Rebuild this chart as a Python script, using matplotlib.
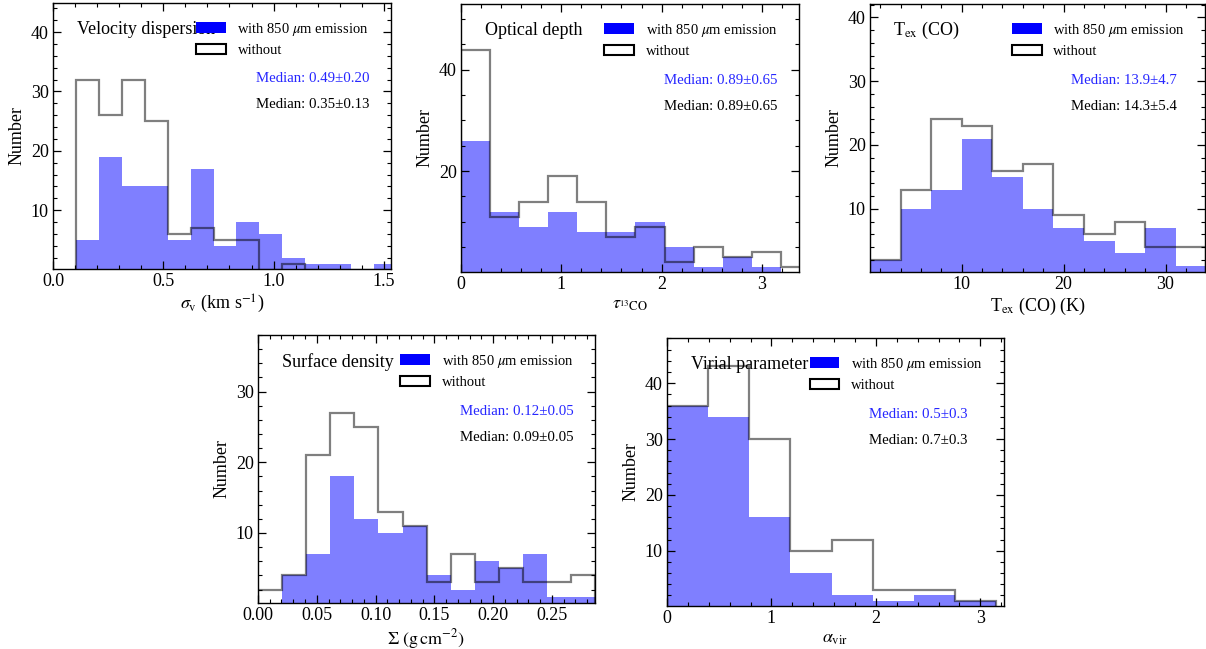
import matplotlib
matplotlib.use('Agg')
import matplotlib.pyplot as plt
from matplotlib.patches import Patch
from matplotlib.ticker import AutoMinorLocator, MultipleLocator

plt.rcParams['font.family'] = 'serif'
plt.rcParams['font.serif'] = ['Liberation Serif', 'DejaVu Serif']
plt.rcParams['mathtext.fontset'] = 'stix'

# ---- data (counts per bin) ----
sig_edges = [0.106, 0.210, 0.313, 0.417, 0.520, 0.624, 0.728, 0.831, 0.935,
             1.038, 1.142, 1.246, 1.349, 1.453, 1.556]
sig_with = [5, 19, 14, 14, 5, 17, 4, 8, 6, 2, 1, 1, 0, 1]
sig_without = [32, 26, 32, 25, 6, 7, 5, 5, 0, 1, 0, 0, 0, 0]

tau_edges = [0.0, 0.29, 0.58, 0.87, 1.16, 1.45, 1.74, 2.03, 2.32, 2.61, 2.90, 3.19, 3.48]
tau_with = [26, 12, 9, 12, 8, 8, 10, 5, 1, 3, 1, 0]
tau_without = [44, 11, 14, 19, 14, 7, 9, 2, 5, 3, 4, 1]

tex_edges = [1, 4, 7, 10, 13, 16, 19, 22, 25, 28, 31, 34]
tex_with = [2, 10, 13, 21, 15, 10, 7, 5, 3, 7, 1]
tex_without = [2, 13, 24, 23, 16, 17, 9, 6, 8, 4, 4]

sd_edges = [0.0, 0.0205, 0.041, 0.0615, 0.082, 0.1025, 0.123, 0.1435, 0.164,
            0.1845, 0.205, 0.2255, 0.246, 0.2665, 0.287]
sd_with = [0, 4, 7, 18, 12, 10, 11, 4, 2, 6, 5, 7, 1, 1]
sd_without = [2, 4, 21, 27, 25, 13, 11, 3, 7, 3, 5, 3, 3, 4]

vir_edges = [0.0, 0.394, 0.788, 1.182, 1.576, 1.970, 2.364, 2.758, 3.152]
vir_with = [36, 34, 16, 6, 2, 1, 2, 1]
vir_without = [36, 43, 30, 10, 12, 3, 3, 1]

titles = ['Velocity dispersion', 'Optical depth', r'T$_{\rm ex}$ (CO)',
          'Surface density', 'Virial parameter']
xlabels = [r'$\sigma_{\rm v}$ (km s$^{-1}$)', r'$\tau_{^{13}\rm CO}$',
           r'T$_{\rm ex}$ (CO) (K)', r'$\Sigma\ (\rm g\,cm^{-2})$', r'$\alpha_{\rm vir}$']
med_with = ['Median: 0.49\u00b10.20', 'Median: 0.89\u00b10.65', 'Median: 13.9\u00b14.7',
            'Median: 0.12\u00b10.05', 'Median: 0.5\u00b10.3']
med_without = ['Median: 0.35\u00b10.13', 'Median: 0.89\u00b10.65', 'Median: 14.3\u00b15.4',
               'Median: 0.09\u00b10.05', 'Median: 0.7\u00b10.3']

edges = [sig_edges, tau_edges, tex_edges, sd_edges, vir_edges]
withs = [sig_with, tau_with, tex_with, sd_with, vir_with]
withouts = [sig_without, tau_without, tex_without, sd_without, vir_without]
xlims = [(0, 1.532), (0, 3.372), (1.0, 33.9), (0, 0.2866), (0, 3.227)]
ylims = [(0.1, 44.9), (0.1, 53), (0.1, 42.1), (0.1, 38.0), (0.1, 48.1)]
xmajor = [0.5, 1, 10, 0.05, 1]
ymajor = [10, 20, 10, 10, 10]
xfmt = ['%.1f', '%d', '%d', '%.2f', '%d']

fig = plt.figure(figsize=(12.06, 6.49), dpi=100)
rects = [[0.0439, 0.5855, 0.2803, 0.4100],
         [0.3823, 0.5809, 0.2803, 0.4130],
         [0.7214, 0.5809, 0.2780, 0.4130],
         [0.2139, 0.0709, 0.2794, 0.4130],
         [0.5531, 0.0663, 0.2794, 0.4130]]

for i in range(5):
    ax = fig.add_axes(rects[i])
    ax.stairs(withs[i], edges[i], fill=True, color='blue', alpha=0.5, lw=0)
    ax.stairs(withouts[i], edges[i], color='k', alpha=0.5, lw=1.6)
    ax.set_xlim(*xlims[i])
    ax.set_ylim(*ylims[i])
    ax.xaxis.set_major_locator(MultipleLocator(xmajor[i]))
    ax.yaxis.set_major_locator(MultipleLocator(ymajor[i]))
    ax.xaxis.set_major_formatter(matplotlib.ticker.FormatStrFormatter(xfmt[i]))
    ax.xaxis.set_minor_locator(AutoMinorLocator())
    ax.yaxis.set_minor_locator(AutoMinorLocator())
    ax.tick_params(which='both', direction='in', top=True, right=True,
                   labelsize=13, pad=3)
    ax.tick_params(which='major', length=6, width=0.9)
    ax.tick_params(which='minor', length=3, width=0.8)
    for s in ax.spines.values():
        s.set_linewidth(1.0)
    ax.set_xlabel(xlabels[i], fontsize=13, labelpad=2)
    ax.set_ylabel('Number', fontsize=13, labelpad=4)

    ax.text(0.07, 0.90, titles[i], transform=ax.transAxes, fontsize=13,
            va='center', ha='left')
    ax.text(0.60, 0.716, med_with[i], transform=ax.transAxes, fontsize=10.7,
            color='blue', va='center', ha='left', alpha=0.85)
    ax.text(0.60, 0.617, med_without[i], transform=ax.transAxes, fontsize=10.7,
            color='k', va='center', ha='left')

    handles = [Patch(facecolor='blue', edgecolor='none'),
               Patch(facecolor='white', edgecolor='black', lw=1.5)]
    ax.legend(handles, [r'with 850 $\mu$m emission', 'without'],
              loc='upper left', bbox_to_anchor=(0.423, 0.933), frameon=False,
              fontsize=10.5, borderpad=0, borderaxespad=0, handlelength=2.05,
              handleheight=0.75, handletextpad=0.8, labelspacing=0.4)

fig.savefig('out.png', dpi=100)
